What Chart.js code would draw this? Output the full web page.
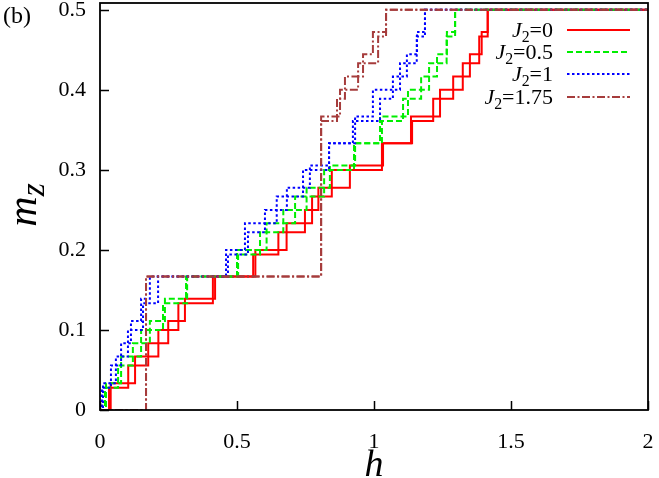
<!DOCTYPE html>
<html>
<head>
<meta charset="utf-8">
<script src="https://cdn.jsdelivr.net/npm/chart.js@4.4.1/dist/chart.umd.min.js"></script>
<style>
  html, body { margin: 0; padding: 0; background: #fff; }
  #wrap { position: relative; width: 659px; height: 478px; overflow: hidden; font-family: "Liberation Serif", "DejaVu Serif", serif; color: #000; }
  #c { position: absolute; left: 0; top: 0; }
  .t { position: absolute; white-space: nowrap; line-height: 1; }
  .leg { font-size: 22px; text-align: right; right: 106px; }
  .leg sub { font-size: 0.72em; vertical-align: -0.3em; line-height: 0; }
  .ax { font-size: 38px; font-style: italic; }
  .my { font-size: 42px; }
  .my sub { font-size: 0.8em; vertical-align: -0.25em; line-height: 0; }
</style>
</head>
<body>
<div id="wrap">
  <canvas id="c" width="659" height="478"></canvas>
  <div class="t" style="left:3px; top:3px; font-size:24px;">(b)</div>
  <div class="t leg" style="top:19px;"><i>J</i><sub>2</sub>=0</div>
  <div class="t leg" style="top:41px;"><i>J</i><sub>2</sub>=0.5</div>
  <div class="t leg" style="top:63px;"><i>J</i><sub>2</sub>=1</div>
  <div class="t leg" style="top:86px;"><i>J</i><sub>2</sub>=1.75</div>
  <div class="t ax" style="left:374px; top:463px; transform:translate(-50%,-50%);">h</div>
  <div class="t ax my" style="left:22px; top:205px; transform:translate(-50%,-50%) rotate(-90deg);">m<sub>z</sub></div>
</div>
<script>
// ---- tick values ----
const hTicks = [0, 0.5, 1, 1.5, 2];
const mTicks = [0, 0.1, 0.2, 0.3, 0.4, 0.5];

// ---- magnetization levels (k/N) ----
const levels30 = [0.0333, 0.0667, 0.1, 0.1333, 0.1667, 0.2, 0.2333, 0.2667, 0.3, 0.3333, 0.3667, 0.4, 0.4333, 0.4667, 0.5];
const levels36 = [0.0278, 0.0556, 0.0833, 0.1111, 0.1389, 0.1667, 0.1944, 0.2222, 0.25, 0.2778, 0.3056, 0.3333, 0.3611, 0.3889, 0.4167, 0.4444, 0.4722, 0.5];

// ---- fields h at which m jumps to the next level ----
const hJ0_N30   = [0.039, 0.128, 0.213, 0.286, 0.412, 0.567, 0.681, 0.774, 0.846, 1.029, 1.135, 1.241, 1.324, 1.384, 1.415];
const hJ0_N36   = [0.033, 0.103, 0.176, 0.249, 0.310, 0.420, 0.559, 0.651, 0.748, 0.797, 0.912, 1.033, 1.139, 1.216, 1.289, 1.350, 1.393, 1.415];
const hJ05_N30  = [0.022, 0.077, 0.150, 0.230, 0.318, 0.500, 0.608, 0.712, 0.818, 0.927, 1.022, 1.124, 1.201, 1.265, 1.296];
const hJ05_N36  = [0.018, 0.066, 0.120, 0.182, 0.237, 0.314, 0.504, 0.584, 0.669, 0.754, 0.839, 0.931, 1.029, 1.106, 1.172, 1.230, 1.266, 1.296];
const hJ1_N30   = [0.011, 0.058, 0.102, 0.157, 0.212, 0.460, 0.529, 0.645, 0.741, 0.836, 0.931, 0.996, 1.095, 1.156, 1.186];
const hJ1_N36   = [0.007, 0.040, 0.077, 0.113, 0.150, 0.182, 0.467, 0.540, 0.602, 0.682, 0.766, 0.836, 0.923, 1.022, 1.069, 1.120, 1.157, 1.186];
const hJ175_N30 = [0.168, 0.807, 0.876, 0.942, 1.015, 1.044];
const mJ175_N30 = [0.1667, 0.3667, 0.4, 0.4333, 0.4667, 0.5];
const hJ175_N36 = [0.168, 0.807, 0.865, 0.894, 0.960, 0.996, 1.044];
const mJ175_N36 = [0.1667, 0.3611, 0.3889, 0.4167, 0.4444, 0.4722, 0.5];

const legendLabels = ['J2=0', 'J2=0.5', 'J2=1', 'J2=1.75'];
const hMax = 2;
const mMax = 0.5085;

function stairs(hs, ms) {
  const pts = [{x: 0, y: 0}];
  for (let i = 0; i < hs.length; i++) pts.push({x: hs[i], y: ms[i]});
  pts.push({x: hMax, y: ms[ms.length - 1]});
  return pts;
}

const styles = [
  {color: '#ff0000', dash: []},
  {color: '#00ee00', dash: [6, 3]},
  {color: '#0000ff', dash: [2.5, 2.5]},
  {color: '#a63c3c', dash: [8, 2.5, 2, 2.5]}
];

function ds(label, data, st) {
  return {label, data, borderColor: st.color, borderDash: st.dash, borderWidth: 2,
          pointRadius: 0, stepped: 'before', fill: false, tension: 0};
}

const datasets = [
  ds(legendLabels[3], stairs(hJ175_N30, mJ175_N30), styles[3]),
  ds(legendLabels[3], stairs(hJ175_N36, mJ175_N36), styles[3]),
  ds(legendLabels[2], stairs(hJ1_N30, levels30), styles[2]),
  ds(legendLabels[2], stairs(hJ1_N36, levels36), styles[2]),
  ds(legendLabels[1], stairs(hJ05_N30, levels30), styles[1]),
  ds(legendLabels[1], stairs(hJ05_N36, levels36), styles[1]),
  ds(legendLabels[0], stairs(hJ0_N30, levels30), styles[0]),
  ds(legendLabels[0], stairs(hJ0_N36, levels36), styles[0])
];

const legendRowsY = [30, 52, 74, 97];

const framePlugin = {
  id: 'frame',
  afterDatasetsDraw(chart) {
    const {ctx, chartArea: a, scales} = chart;
    ctx.save();
    ctx.strokeStyle = '#000';
    ctx.lineWidth = 1.5;
    ctx.setLineDash([]);
    ctx.beginPath();
    hTicks.forEach(v => {
      const px = Math.round(scales.x.getPixelForValue(v)) + 0.5;
      ctx.moveTo(px, a.bottom); ctx.lineTo(px, a.bottom - 9);
    });
    mTicks.forEach(v => {
      const py = Math.round(scales.y.getPixelForValue(v)) + 0.5;
      ctx.moveTo(a.left, py); ctx.lineTo(a.left + 9, py);
    });
    ctx.stroke();
    ctx.lineWidth = 1.8;
    ctx.strokeRect(a.left, a.top, a.right - a.left, a.bottom - a.top);
    styles.forEach((st, i) => {
      ctx.beginPath();
      ctx.strokeStyle = st.color;
      ctx.lineWidth = 2;
      ctx.setLineDash(st.dash);
      ctx.moveTo(567, legendRowsY[i]);
      ctx.lineTo(630, legendRowsY[i]);
      ctx.stroke();
    });
    ctx.restore();
  }
};

const tickFont = {family: '"Liberation Serif", serif', size: 22};

function zeroPad(s) { s.paddingTop = 0; s.paddingBottom = 0; s.paddingLeft = 0; s.paddingRight = 0; }

new Chart(document.getElementById('c'), {
  type: 'line',
  data: {datasets},
  options: {
    responsive: false,
    animation: false,
    devicePixelRatio: 1,
    layout: {padding: {left: 0, right: 11, top: 3, bottom: 0}},
    plugins: {legend: {display: false}, tooltip: {enabled: false}},
    scales: {
      x: {
        type: 'linear', min: 0, max: hMax,
        afterBuildTicks: s => { s.ticks = hTicks.map(v => ({value: v})); },
        afterFit: s => { s.height = 68; zeroPad(s); },
        grid: {display: false, drawTicks: false},
        border: {display: false},
        ticks: {color: '#000', font: tickFont, padding: 19, maxRotation: 0,
                callback: v => String(v)}
      },
      y: {
        type: 'linear', min: 0, max: mMax,
        afterBuildTicks: s => { s.ticks = mTicks.map(v => ({value: v})); },
        afterFit: s => { s.width = 100; zeroPad(s); },
        grid: {display: false, drawTicks: false},
        border: {display: false},
        ticks: {color: '#000', font: tickFont, padding: 14,
                callback: v => String(+v.toFixed(1))}
      }
    }
  },
  plugins: [framePlugin]
});
</script>
</body>
</html>
